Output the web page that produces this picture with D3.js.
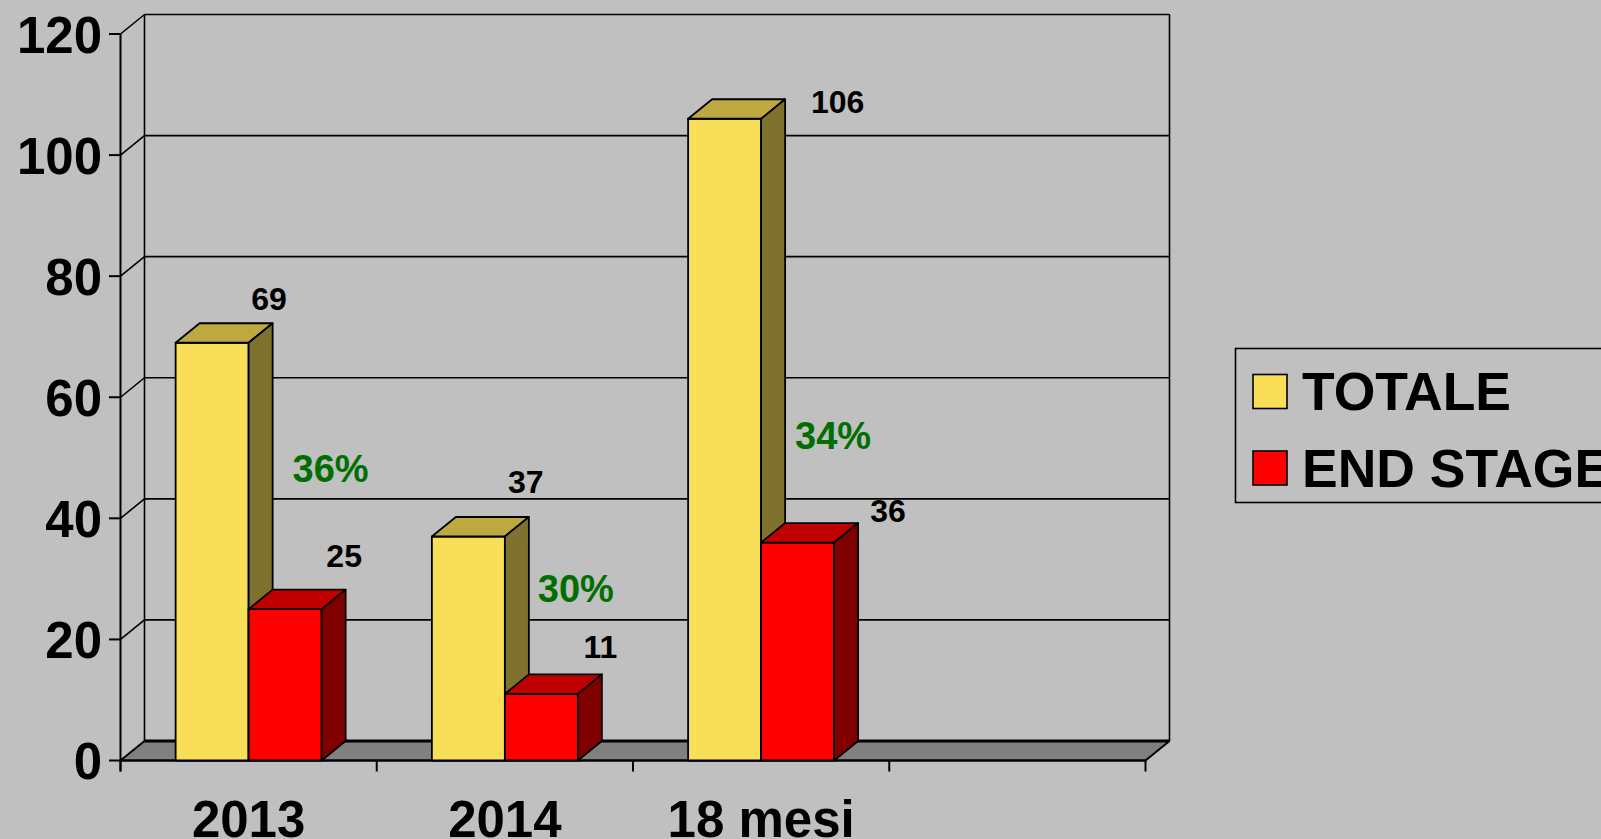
<!DOCTYPE html>
<html>
<head>
<meta charset="utf-8">
<script src="https://cdn.jsdelivr.net/npm/d3@7/dist/d3.min.js"></script>
<style>
  html, body { margin: 0; padding: 0; background: #c0c0c0; overflow: hidden; }
  svg { display: block; }
  text { font-family: "Liberation Sans", Arial, sans-serif; font-weight: bold; }
</style>
</head>
<body>
<svg id="chart" width="1601" height="839"></svg>
<script>
// Categories on the x axis (the fourth slot is left empty)
const categories = ["2013", "2014", "18 mesi", ""];
const seriesNames = ["TOTALE", "END STAGE"];
const totale = [69, 37, 106];
const endStage = [25, 11, 36];
const yTickValues = [0, 20, 40, 60, 80, 100, 120];

// Label placement: [offset from bar front centre, height above bar top]
const valueLabelLayout = {
  "TOTALE":    [[57, 33], [57.5, 43.5], [113, 6]],
  "END STAGE": [[59, 42.5], [59, 35.6], [90.4, 21]]
};
// Share label placement: [offset from band centre, value level of baseline]
const shareLabelLayout = [[82, 46], [71, 26.2], [72, 51.4]];

const W = 1601, H = 839;
const DX = 24, DY = -19.5;           // depth of the 3-D box
const palette = {
  "TOTALE":    { front: "#f9df57", top: "#bda93f", side: "#7e722e" },
  "END STAGE": { front: "#ff0000", top: "#c00000", side: "#800000" }
};

const svg = d3.select("#chart");
svg.append("rect").attr("width", W).attr("height", H).attr("fill", "#c0c0c0");

const y = d3.scaleLinear().domain([0, 120]).range([760.5, 34]);
const x = d3.scaleBand().domain(categories).range([120.5, 1145.5]);
const xs = d3.scaleBand().domain(seriesNames).range([0, x.bandwidth()])
  .paddingInner(0).paddingOuter(0.755);

const x0 = x.range()[0], x1 = x.range()[1];
const y0 = y(0);

// Floor
const floor = svg.append("g");
floor.append("polygon")
  .attr("points", [[x0, y0], [x1, y0], [x1 + DX, y0 + DY], [x0 + DX, y0 + DY]].join(" "))
  .attr("fill", "#808080").attr("stroke", "none");
floor.append("line").attr("x1", x0 + DX).attr("x2", x1 + DX)
  .attr("y1", y0 + DY).attr("y2", y0 + DY).attr("stroke", "#000").attr("stroke-width", 3);
floor.append("line").attr("x1", x0).attr("x2", x0 + DX)
  .attr("y1", y0).attr("y2", y0 + DY).attr("stroke", "#000").attr("stroke-width", 2);
floor.append("line").attr("x1", x1).attr("x2", x1 + DX)
  .attr("y1", y0).attr("y2", y0 + DY).attr("stroke", "#000").attr("stroke-width", 2);
floor.append("line").attr("x1", x0).attr("x2", x1)
  .attr("y1", y0).attr("y2", y0).attr("stroke", "#000").attr("stroke-width", 2.5);

// Back wall gridlines and side wall diagonals
const grid = svg.append("g").attr("stroke", "#000").attr("stroke-width", 1.6);
yTickValues.filter(t => t > 0).forEach(t => {
  grid.append("line").attr("x1", x0 + DX).attr("x2", x1 + DX)
    .attr("y1", y(t) + DY).attr("y2", y(t) + DY);
  grid.append("line").attr("x1", x0).attr("x2", x0 + DX)
    .attr("y1", y(t)).attr("y2", y(t) + DY);
});
grid.append("line").attr("x1", x0 + DX).attr("x2", x0 + DX)
  .attr("y1", y(120) + DY).attr("y2", y0 + DY);
grid.append("line").attr("x1", x1 + DX).attr("x2", x1 + DX)
  .attr("y1", y(120) + DY).attr("y2", y0 + DY);

// Front value axis with ticks
const axis = svg.append("g").attr("stroke", "#000").attr("stroke-width", 2);
axis.append("line").attr("x1", x0).attr("x2", x0).attr("y1", y(120)).attr("y2", y0 + 11);
yTickValues.forEach(t => {
  axis.append("line").attr("x1", x0 - 11.5).attr("x2", x0).attr("y1", y(t)).attr("y2", y(t));
});
categories.map(c => x(c)).concat([x1]).forEach(px => {
  axis.append("line").attr("x1", px).attr("x2", px).attr("y1", y0).attr("y2", y0 + 11);
});

svg.append("g").selectAll("text").data(yTickValues).join("text")
  .attr("x", 102).attr("y", d => y(d) + 18.5)
  .attr("text-anchor", "end").attr("font-size", 51).attr("fill", "#000")
  .text(d => d);

svg.append("g").selectAll("text").data(categories.filter(c => c !== "")).join("text")
  .attr("x", d => x(d) + x.bandwidth() / 2).attr("y", 837)
  .attr("text-anchor", "middle").attr("font-size", 51).attr("fill", "#000")
  .text(d => d);

// 3-D bars
function drawBar(g, left, w, v, col) {
  const yt = y(v);
  g.append("rect").attr("x", left).attr("y", yt).attr("width", w).attr("height", y0 - yt)
    .attr("fill", col.front);
  g.append("polygon")
    .attr("points", [[left, yt], [left + DX, yt + DY], [left + w + DX, yt + DY], [left + w, yt]].join(" "))
    .attr("fill", col.top);
  g.append("polygon")
    .attr("points", [[left + w, yt], [left + w + DX, yt + DY], [left + w + DX, y0 + DY], [left + w, y0]].join(" "))
    .attr("fill", col.side);
}

const bars = svg.append("g").attr("stroke", "#000").attr("stroke-width", 1.8)
  .attr("stroke-linejoin", "round");
const seriesValues = { "TOTALE": totale, "END STAGE": endStage };
totale.forEach((_, i) => {
  const c = categories[i];
  seriesNames.forEach(s => {
    drawBar(bars, x(c) + xs(s), xs.bandwidth(), seriesValues[s][i], palette[s]);
  });
});

// Value labels
const labels = svg.append("g");
seriesNames.forEach(s => {
  seriesValues[s].forEach((v, i) => {
    const c = categories[i];
    const [dx, rise] = valueLabelLayout[s][i];
    labels.append("text")
      .attr("x", x(c) + xs(s) + xs.bandwidth() / 2 + dx)
      .attr("y", y(v) - rise)
      .attr("text-anchor", "middle").attr("font-size", 32).attr("fill", "#000")
      .text(v);
  });
});

// Share of END STAGE over TOTALE
totale.forEach((t, i) => {
  const c = categories[i];
  const [dx, level] = shareLabelLayout[i];
  labels.append("text")
    .attr("x", x(c) + x.bandwidth() / 2 + dx)
    .attr("y", y(level))
    .attr("text-anchor", "middle").attr("font-size", 38).attr("fill", "#006f00")
    .text(Math.round(endStage[i] / t * 100) + "%");
});

// Legend
const legend = svg.append("g");
legend.append("rect").attr("x", 1235.5).attr("y", 348.5).attr("width", 420).attr("height", 154)
  .attr("fill", "none").attr("stroke", "#000").attr("stroke-width", 1.6);
seriesNames.forEach((s, i) => {
  const top = 374.5 + i * 76.5;
  legend.append("rect").attr("x", 1253).attr("y", top).attr("width", 34).attr("height", 34)
    .attr("fill", palette[s].front).attr("stroke", "#000").attr("stroke-width", 1.6);
  legend.append("text").attr("x", 1302).attr("y", top + 35.5)
    .attr("font-size", 53.5).attr("fill", "#000").text(s);
});
</script>
</body>
</html>
